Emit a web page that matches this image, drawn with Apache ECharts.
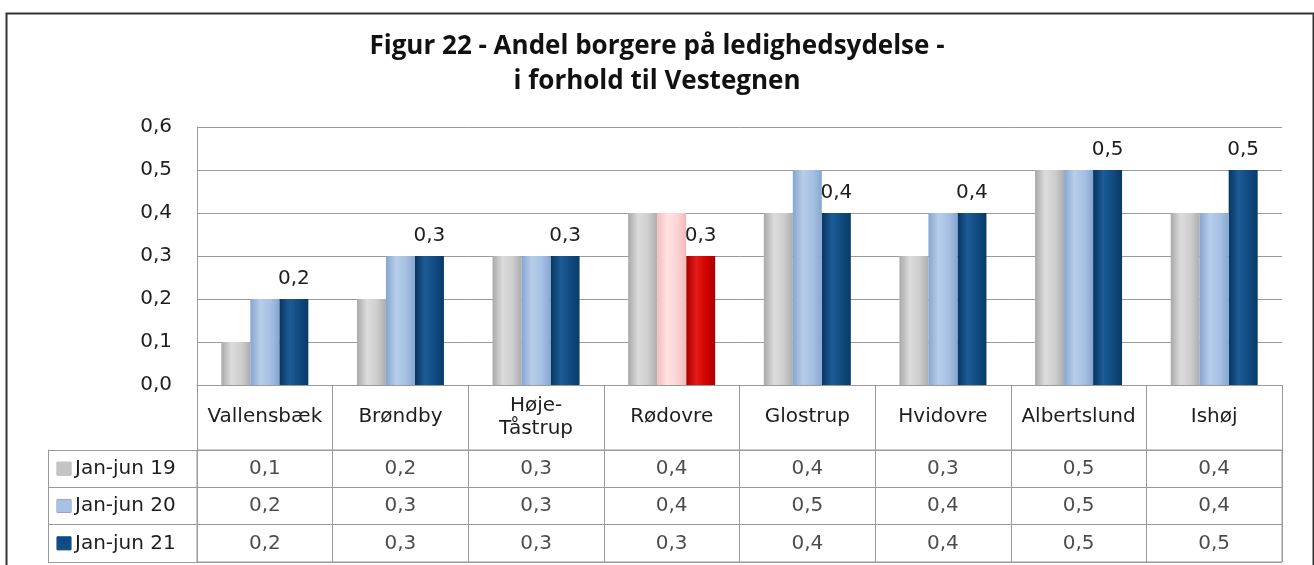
<!DOCTYPE html>
<html>
<head>
<meta charset="utf-8">
<script src="https://cdn.jsdelivr.net/npm/echarts@6/dist/echarts.min.js"></script>
<style>
  html, body { margin: 0; padding: 0; background: #fff; }
  #chart { width: 1314px; height: 565px; }
</style>
</head>
<body>
<div id="chart"></div>
<script>
// data
var categories = ['Vallensbæk', 'Brøndby', 'Høje-\nTåstrup', 'Rødovre', 'Glostrup', 'Hvidovre', 'Albertslund', 'Ishøj'];
var seriesNames = ['Jan-jun 19', 'Jan-jun 20', 'Jan-jun 21'];
var jan19 = [0.1, 0.2, 0.3, 0.4, 0.4, 0.3, 0.5, 0.4];
var jan20 = [0.2, 0.3, 0.3, 0.4, 0.5, 0.4, 0.5, 0.4];
var jan21 = [0.2, 0.3, 0.3, 0.3, 0.4, 0.4, 0.5, 0.5];
var highlightCategory = 'Rødovre';
var yMin = 0, yMax = 0.6, yStep = 0.1;

var chart = echarts.init(document.getElementById('chart'));

function fmt(v) {
  return Number(v).toFixed(1).replace('.', ',');
}
function grad(c1, c2, c3, c4) {
  return new echarts.graphic.LinearGradient(0, 0, 1, 0, [
    { offset: 0, color: c1 },
    { offset: 0.35, color: c2 },
    { offset: 0.7, color: c3 },
    { offset: 1, color: c4 }
  ]);
}

var colGray = grad('#a9a9a9', '#dcdcdc', '#cdcdcd', '#adadad');
var colLight = grad('#86a6cf', '#b7cdea', '#a6c0e3', '#87a7d0');
var colDark = grad('#073460', '#1d5c96', '#0f4a80', '#083a68');
var colPink = grad('#f2bcbc', '#ffe3e3', '#ffd3d3', '#efbaba');
var colRed = grad('#a30000', '#e51a1a', '#d20000', '#a80000');
var iconColors = ['#c4c4c4', '#a6c1e4', '#0f4c84'];

var hi = categories.indexOf(highlightCategory);

function barData(values, hiColor) {
  return values.map(function (v, i) {
    if (i === hi && hiColor) return { value: v, itemStyle: { color: hiColor } };
    return v;
  });
}

// data table cells
var rows = [jan19, jan20, jan21];
var tableCells = [];
rows.forEach(function (vals, r) {
  vals.forEach(function (v, c) { tableCells.push([c, r, v]); });
});

var lineCol = '#9a9a9a';
var txtCol = '#1e1e1e';
var font = 'DejaVu Sans';

chart.setOption({
  animation: false,
  title: {
    text: 'Figur 22 - Andel borgere på ledighedsydelse -\ni forhold til Vestegnen',
    left: 'center',
    top: 24,
    textStyle: { fontFamily: 'Open Sans', fontWeight: 'bold', fontSize: 26, lineHeight: 35, color: '#111' }
  },
  graphic: [{
    type: 'rect', left: 4, top: 11, silent: true,
    shape: { width: 1307, height: 600 },
    style: { fill: 'none', stroke: '#333', lineWidth: 2 }
  }],
  grid: [
    { left: 197, right: 32, top: 127, height: 258 },
    { left: 197, right: 32, top: 450, height: 112, show: true, borderColor: lineCol, borderWidth: 1 }
  ],
  xAxis: [{
    type: 'category', gridIndex: 0, data: categories, position: 'bottom',
    axisLine: { lineStyle: { color: lineCol } },
    axisTick: { show: true, interval: 0, length: 65, alignWithLabel: false, lineStyle: { color: lineCol } },
    axisLabel: { interval: 0, margin: 32, verticalAlign: 'middle', fontFamily: font, fontSize: 20, lineHeight: 23, color: txtCol }
  }, {
    type: 'category', gridIndex: 1, data: categories, position: 'top',
    axisLine: { show: false }, axisTick: { show: false }, axisLabel: { show: false },
    splitLine: { show: true, interval: 0, lineStyle: { color: lineCol } }
  }],
  yAxis: [{
    type: 'value', gridIndex: 0, min: yMin, max: yMax, interval: yStep,
    axisLine: { show: true, lineStyle: { color: lineCol } },
    axisTick: { show: false },
    axisLabel: { formatter: fmt, margin: 25, fontFamily: font, fontSize: 20, color: txtCol },
    splitLine: { lineStyle: { color: lineCol } }
  }, {
    type: 'category', gridIndex: 1, data: seriesNames, inverse: true,
    axisLine: { show: true, lineStyle: { color: lineCol } },
    axisTick: { show: true, interval: 0, length: 149, alignWithLabel: false, lineStyle: { color: lineCol } },
    splitLine: { show: true, interval: 0, lineStyle: { color: lineCol } },
    axisLabel: {
      align: 'left', margin: 140,
      formatter: function (v, i) { return '{i' + i + '|}{t|' + v + '}'; },
      rich: {
        i0: { width: 14, height: 13, backgroundColor: iconColors[0], borderColor: '#aaa', borderWidth: 0.5 },
        i1: { width: 14, height: 13, backgroundColor: iconColors[1], borderColor: '#88a', borderWidth: 0.5 },
        i2: { width: 14, height: 13, backgroundColor: iconColors[2], borderColor: '#036', borderWidth: 0.5 },
        t: { fontFamily: font, fontSize: 20, color: txtCol, padding: [0, 0, 0, 4] }
      }
    }
  }, {
    type: 'category', gridIndex: 1, data: seriesNames, inverse: true, position: 'left', offset: 149,
    axisLine: { show: true, lineStyle: { color: lineCol } },
    axisTick: { show: false }, axisLabel: { show: false }
  }],
  series: [{
    name: seriesNames[0], type: 'bar', xAxisIndex: 0, yAxisIndex: 0, z: 2,
    barWidth: 29, barGap: '0%',
    itemStyle: { color: colGray },
    data: barData(jan19, null)
  }, {
    name: seriesNames[1], type: 'bar', xAxisIndex: 0, yAxisIndex: 0, z: 3,
    barWidth: 29, barGap: '0%',
    itemStyle: { color: colLight },
    data: barData(jan20, colPink)
  }, {
    name: seriesNames[2], type: 'bar', xAxisIndex: 0, yAxisIndex: 0, z: 2,
    barWidth: 29, barGap: '0%',
    itemStyle: { color: colDark },
    label: {
      show: true, position: 'top', distance: 10,
      fontFamily: font, fontSize: 20, color: txtCol,
      formatter: function (p) { return fmt(p.value); }
    },
    data: barData(jan21, colRed)
  }, {
    name: 'table', type: 'scatter', xAxisIndex: 1, yAxisIndex: 1,
    symbol: 'rect', symbolSize: 1, silent: true,
    itemStyle: { color: 'transparent' },
    label: {
      show: true, position: 'inside',
      fontFamily: font, fontSize: 20, color: txtCol,
      formatter: function (p) { return fmt(p.value[2]); }
    },
    data: tableCells
  }]
});
</script>
</body>
</html>
